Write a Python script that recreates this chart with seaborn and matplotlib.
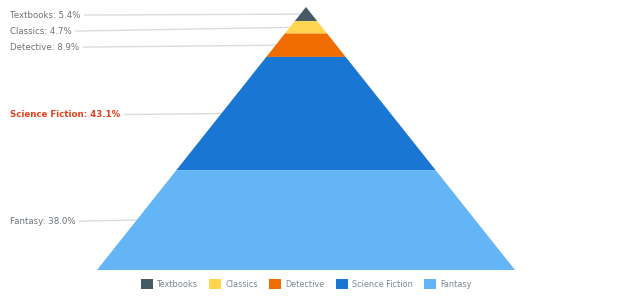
import matplotlib
matplotlib.use("Agg")
import matplotlib.pyplot as plt
from matplotlib.patches import Patch
import seaborn as sns
import numpy as np

categories = ["Textbooks", "Classics", "Detective", "Science Fiction", "Fantasy"]
percents = [5.4, 4.7, 8.9, 43.1, 38.0]
colors = ["#455a64", "#ffd54f", "#ef6c00", "#1976d2", "#64b5f6"]
highlight = "Science Fiction"

sns.set_theme(style="white")
plt.rcParams["font.family"] = ["DejaVu Sans"]

W, H = 620, 300
fig = plt.figure(figsize=(W / 100, H / 100), dpi=100)
ax = fig.add_axes([0, 0, 1, 1])
ax.set_xlim(0, W)
ax.set_ylim(H, 0)
ax.axis("off")

apex_x, top_y, base_y, base_half = 306, 7, 270, 209
height = base_y - top_y
total = sum(percents)

def half_width(y):
    return base_half * (y - top_y) / height

cum = 0.0
prev_label_y = -100
for cat, p, c in zip(categories, percents, colors):
    y0 = top_y + height * cum / total
    y1 = top_y + height * (cum + p) / total
    cum += p
    xs = [apex_x - half_width(y0), apex_x + half_width(y0),
          apex_x + half_width(y1), apex_x - half_width(y1)]
    ys = [y0, y0, y1, y1]
    ax.fill(xs, ys, color=c, lw=0)
    ym = (y0 + y1) / 2
    ly = max(ym, prev_label_y + 16)
    prev_label_y = ly
    ly_draw = ly + 1
    is_hl = cat == highlight
    t = ax.text(10, ly_draw, f"{cat}: {p:.1f}%", ha="left", va="center",
                fontsize=6.2, color="#e5401d" if is_hl else "#6b7379",
                fontweight="bold" if is_hl else "normal")
    fig.canvas.draw()
    bb = t.get_window_extent(renderer=fig.canvas.get_renderer())
    x_end = bb.x1 + 4
    ax.plot([x_end, apex_x - half_width(ym)], [ly_draw, ym], color="#dcdcdc",
            lw=1, zorder=0)

handles = [Patch(facecolor=c, edgecolor="none", label=cat) for cat, c in zip(categories, colors)]
leg = fig.legend(handles=handles, loc="center", bbox_to_anchor=(306 / W, 1 - 284 / H),
                 ncol=5, frameon=False, fontsize=5.9, handlelength=1.45, handleheight=1.45,
                 handletextpad=0.5, columnspacing=1.4, labelcolor="#7c868e",
                 borderpad=0, borderaxespad=0)

fig.savefig("out.png", dpi=100, facecolor="white")
